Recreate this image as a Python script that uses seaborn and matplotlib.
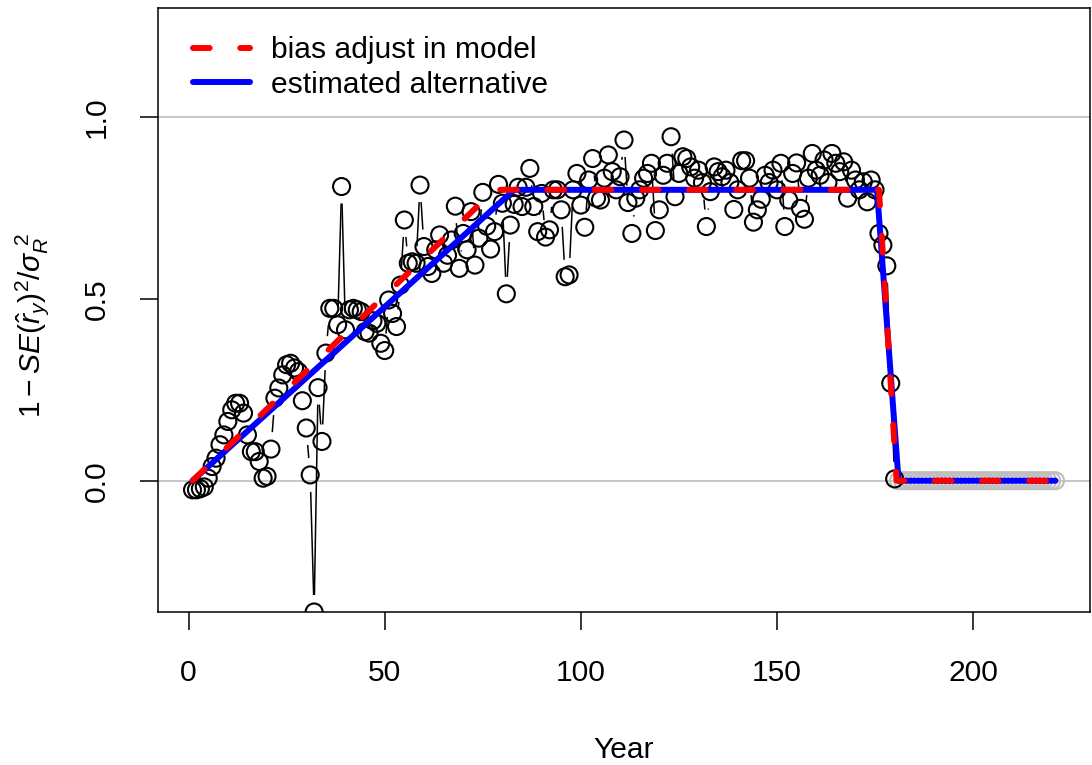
import numpy as np
import pandas as pd
import matplotlib
matplotlib.use("Agg")
import matplotlib.pyplot as plt
import seaborn as sns
from matplotlib.collections import LineCollection
from matplotlib.lines import Line2D

# ---------------- data ----------------
main_vals = [
    -0.025, -0.025, -0.022, -0.017, 0.007, 0.039, 0.062, 0.099, 0.126, 0.163,
    0.195, 0.213, 0.213, 0.186, 0.126, 0.080, 0.080, 0.053, 0.007, 0.012,
    0.087, 0.227, 0.255, 0.291, 0.319, 0.323, 0.310, 0.300, 0.220, 0.145,
    0.016, -0.361, 0.256, 0.108, 0.351,
    0.474, 0.474, 0.429, 0.809, 0.415, 0.470, 0.474, 0.470, 0.465, 0.410,
    0.406, 0.440, 0.433, 0.378, 0.358, 0.497, 0.460, 0.424, 0.538, 0.717,
    0.598, 0.602, 0.598, 0.813, 0.644, 0.589, 0.570, 0.635, 0.676, 0.598,
    0.620, 0.662, 0.755, 0.584, 0.680, 0.635, 0.740, 0.593, 0.667, 0.793,
    0.700, 0.637, 0.685, 0.815, 0.763, 0.514, 0.703, 0.760, 0.807, 0.754,
    0.807, 0.859, 0.754, 0.685, 0.790, 0.670, 0.690, 0.800, 0.800, 0.745,
    0.561, 0.566, 0.800, 0.845, 0.758, 0.697, 0.827, 0.886, 0.777, 0.772,
    0.832, 0.896, 0.850, 0.800, 0.836, 0.937, 0.765, 0.680, 0.777, 0.800,
    0.832, 0.845, 0.873, 0.688, 0.745, 0.840, 0.873, 0.946, 0.781, 0.845,
    0.891, 0.886, 0.863, 0.832, 0.854, 0.820, 0.699, 0.795, 0.863, 0.850,
    0.836, 0.854, 0.820, 0.746, 0.800, 0.880, 0.880, 0.832, 0.711, 0.745,
    0.774, 0.840, 0.820, 0.854, 0.800, 0.873, 0.699, 0.772, 0.845, 0.874,
    0.749, 0.719, 0.832, 0.900, 0.854, 0.840, 0.882, 0.820, 0.900, 0.873,
    0.850, 0.877, 0.777, 0.854, 0.827, 0.800, 0.822, 0.767, 0.827, 0.800,
    0.680, 0.648, 0.591, 0.268, 0.005,
]
main_years = list(range(1, len(main_vals) + 1))
fore_years = list(range(len(main_vals) + 1, 222))
fore_vals = [0.0] * len(fore_years)

bias_years = [1, 78, 176, 180.5, 221]
bias_vals = [0.0, 0.8, 0.8, 0.0, 0.0]
alt_years = [1, 83, 175.5, 181, 221]
alt_vals = [0.0, 0.8, 0.8, 0.0, 0.0]

x_ticks = [0, 50, 100, 150, 200]
y_ticks = [0.0, 0.5, 1.0]
y_ticklabels = ["0.0", "0.5", "1.0"]
legend_labels = ["bias adjust in model", "estimated alternative"]

# ---------------- style ----------------
sns.set_style("white")
plt.rcParams["font.family"] = ["Liberation Sans", "DejaVu Sans"]
plt.rcParams["mathtext.fontset"] = "custom"
plt.rcParams["mathtext.rm"] = "Liberation Sans"
plt.rcParams["mathtext.it"] = "Liberation Sans:italic"
plt.rcParams["mathtext.bf"] = "Liberation Sans:bold"
plt.rcParams["lines.scale_dashes"] = False
for k in ("text.color", "axes.labelcolor", "xtick.color", "ytick.color", "axes.edgecolor"):
    plt.rcParams[k] = "black"
FS = 21.6

fig = plt.figure(figsize=(10.92, 7.65), dpi=100)
ax = fig.add_axes([158 / 1092, 1 - 612 / 765, (1090 - 158) / 1092, (612 - 8) / 765])

all_years = main_years + fore_years
xmin, xmax = min(all_years), max(all_years)
pad = 0.04 * (xmax - xmin)
ax.set_xlim(xmin - pad, xmax + pad)
ax.set_ylim(min(main_vals), 1.3)

# reference lines
for h in (0.0, 1.0):
    ax.axhline(h, color="#BEBEBE", lw=1.2, zorder=1)

# connecting lines with gaps (R type = "b")
def gapped_segments(xs, ys, gap_px=17):
    pts = ax.transData.transform(np.column_stack([xs, ys]))
    inv = ax.transData.inverted()
    segs = []
    for p0, p1 in zip(pts[:-1], pts[1:]):
        d = p1 - p0
        L = np.hypot(*d)
        if L > 2 * gap_px:
            u = d / L
            segs.append(inv.transform(np.array([p0 + u * gap_px, p1 - u * gap_px])))
    return segs

ax.add_collection(LineCollection(gapped_segments(main_years, main_vals),
                                 colors="black", linewidths=1.1, zorder=2))

df_main = pd.DataFrame({"Year": main_years, "val": main_vals})
df_fore = pd.DataFrame({"Year": fore_years, "val": fore_vals})
sns.scatterplot(data=df_fore, x="Year", y="val", ax=ax, marker="o", s=150,
                facecolors="none", edgecolor="#BEBEBE", linewidth=1.5, zorder=2)
sns.scatterplot(data=df_main, x="Year", y="val", ax=ax, marker="o", s=150,
                facecolors="none", edgecolor="black", linewidth=1.5, zorder=2)

df_alt = pd.DataFrame({"Year": alt_years, "val": alt_vals})
df_bias = pd.DataFrame({"Year": bias_years, "val": bias_vals})
sns.lineplot(data=df_alt, x="Year", y="val", ax=ax, color="blue", lw=4.3,
             sort=False, zorder=3, solid_joinstyle="round", solid_capstyle="round")
sns.lineplot(data=df_bias, x="Year", y="val", ax=ax, color="red", lw=4.3,
             sort=False, zorder=4, linestyle=(0, (12, 22)), dash_capstyle="round")

# axes
for s in ax.spines.values():
    s.set_visible(True)
    s.set_color("black")
    s.set_linewidth(1.1)
ax.set_xticks(x_ticks)
ax.set_xticklabels([str(t) for t in x_ticks], fontsize=FS)
ax.set_yticks(y_ticks)
ax.set_yticklabels(y_ticklabels, fontsize=FS, rotation=90, va="center")
ax.tick_params(axis="both", direction="out", length=13, width=1.1, color="black",
               bottom=True, left=True)
ax.tick_params(axis="x", pad=21)
ax.tick_params(axis="y", pad=21)

ax.set_xlabel("Year", fontsize=FS)
ax.xaxis.set_label_coords(0.5, -0.205)
ax.set_ylabel(r"$1-SE(\hat{r}_y)^2/\sigma_R^{\ 2}$", fontsize=FS)
ax.yaxis.set_label_coords(-0.115, 0.474)

handles = [Line2D([], [], color="red", lw=4.3, linestyle=(0, (12, 22)), dash_capstyle="round"),
           Line2D([], [], color="blue", lw=4.3, solid_capstyle="round")]
ax.legend(handles=handles, labels=legend_labels, loc="upper left",
          bbox_to_anchor=(0.0376, 0.9535), frameon=False, fontsize=FS,
          handlelength=1.9, handletextpad=0.7, labelspacing=0.23,
          borderpad=0, borderaxespad=0)

fig.savefig("out.png", dpi=100)
